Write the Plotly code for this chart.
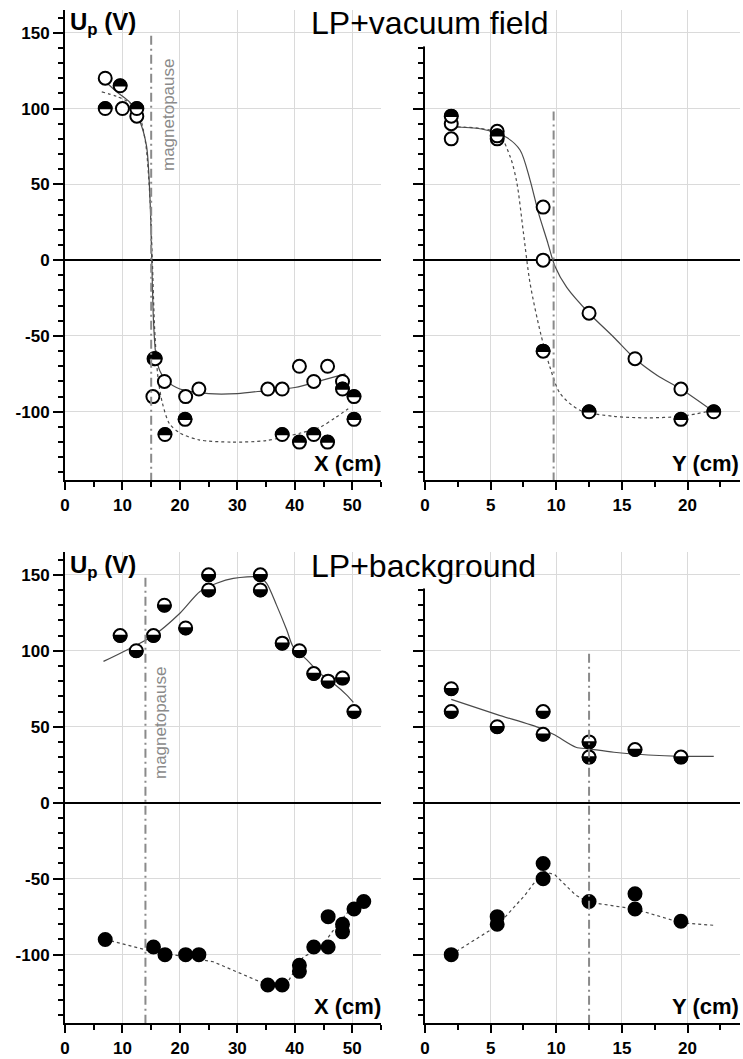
import numpy as np
import plotly.graph_objects as go

# ---------------------------------------------------------------- data
# LP + vacuum field, scan along X
vx_open_x = [7, 10, 12.5, 15.3, 15.5, 17.3, 21, 23.3, 35.3, 37.8, 40.8, 43.3, 45.7, 48.3]
vx_open_y = [120, 100, 95, -90, -65, -80, -90, -85, -85, -85, -70, -80, -70, -80]
vx_half_x = [7, 9.6, 12.5, 15.7, 17.4, 20.9, 37.8, 40.8, 43.3, 45.7, 48.3, 50.3, 50.3]
vx_half_y = [100, 115, 100, -65, -115, -105, -115, -120, -115, -120, -85, -90, -105]
vx_fit_open_x = [6.7, 9, 11.3, 13, 14.2, 14.8, 15.1, 15.4, 15.8, 16.5, 17.5, 20, 25, 30, 35, 40, 45, 48.8]
vx_fit_open_y = [119, 111, 104, 92, 75, 40, 0, -40, -62, -73, -79, -85, -88, -88, -86, -84, -79, -75]
vx_fit_half_x = [6.4, 9, 11.2, 12.8, 14, 14.8, 15.2, 15.6, 16.2, 17, 18.2, 20, 23.3, 29, 35, 41, 44.5, 47, 49.3]
vx_fit_half_y = [111, 108, 104, 97, 78, 40, 0, -45, -78, -95, -108, -114, -118.5, -120, -119, -114, -110, -104, -98]

# LP + vacuum field, scan along Y
vy_open_x = [2, 2, 5.5, 5.5, 9, 9, 12.5, 16, 19.5]
vy_open_y = [90, 80, 85, 80, 35, 0, -35, -65, -85]
vy_half_x = [2, 5.5, 9, 12.5, 19.5, 22]
vy_half_y = [95, 82, -60, -100, -105, -100]
vy_fit_open_x = [2, 4.3, 6.2, 7.25, 8.0, 8.65, 9.3, 9.9, 10.8, 12.5, 14.4, 16, 17.7, 19.5, 22]
vy_fit_open_y = [88, 86.5, 81, 72.5, 53, 31, 13, -4, -18, -35, -51, -65, -76, -85, -100]
vy_fit_half_x = [2, 5.5, 6.5, 7.0, 7.5, 8.0, 8.8, 9.5, 10.3, 11.8, 14.4, 16.9, 19.5, 22]
vy_fit_half_y = [88, 84, 68, 51, 18, -15, -48, -70, -88, -99, -103, -104, -103, -99]

# LP + background, scan along X
bx_half_x = [9.6, 12.4, 15.4, 17.3, 21, 25, 25, 34, 34, 37.8, 40.8, 43.3, 45.8, 48.3, 50.3]
bx_half_y = [110, 100, 110, 130, 115, 150, 140, 150, 140, 105, 100, 85, 80, 82, 60]
bx_fit_x = [6.7, 11.9, 15.4, 20, 23.5, 26.4, 29.3, 33.9, 35.1, 36.8, 38.6, 39.7, 42.1, 44.4, 46.7, 49, 50.2]
bx_fit_y = [93, 102.7, 110, 124.7, 139, 144.4, 147.6, 148.3, 144.4, 130.2, 113.7, 102.7, 94, 85, 78.6, 71, 66]
bx_full_x = [7, 15.4, 17.4, 21, 23.3, 35.3, 37.8, 40.8, 40.8, 43.3, 45.8, 45.8, 48.3, 48.3, 50.3, 52]
bx_full_y = [-90, -95, -100, -100, -100, -120, -120, -107, -111, -95, -75, -95, -80, -85, -70, -65]
bx_dash_x = [7, 14.2, 25.8, 33.9, 38.6, 39.7, 41.5, 44.4, 46.7, 49, 52]
bx_dash_y = [-90, -97, -104.7, -117.8, -119, -112.3, -101.4, -96, -84, -73, -65]

# LP + background, scan along Y
by_half_x = [2, 2, 5.5, 9, 9, 12.5, 12.5, 16, 19.5]
by_half_y = [75, 60, 50, 60, 45, 40, 30, 35, 30]
by_fit_x = [2, 5.5, 8.8, 9.9, 11.5, 12.5, 14.4, 17, 19.5, 22]
by_fit_y = [68, 58, 49, 44.5, 36.5, 35.4, 33.2, 31.4, 30.5, 30.5]
by_full_x = [2, 5.5, 5.5, 9, 9, 12.5, 16, 16, 19.5]
by_full_y = [-100, -75, -80, -40, -50, -65, -60, -70, -78]
by_dash_x = [2, 5.5, 7.6, 9, 9.9, 11.5, 12.5, 14.4, 16, 19.5, 22]
by_dash_y = [-100, -81, -61, -45, -47.5, -61, -65.5, -67.7, -70, -79, -80.7]

# magnetopause positions (x, top of the line) per panel
mp_vx = (15.0, 148)
mp_vy = (9.8, 98)
mp_bx = (14.0, 148)
mp_by = (12.5, 98)

y_tickvals = [-100, -50, 0, 50, 100, 150]
y_ticktext = ["-100", "-50", "0", "50", "100", "150"]
x_tickvals = [0, 10, 20, 30, 40, 50]
y2_tickvals = [0, 5, 10, 15, 20]

# ---------------------------------------------------------------- geometry
W, H = 743, 1059
ML, MR, MT, MB = 65, 3, 10, 36
PW, PH = W - ML - MR, H - MT - MB
TOP_PX = (10, 480)      # top row: pixel rows of plot area
BOT_PX = (552, 1023)    # bottom row
YR = [-145, 165]
Y_SPINE_TOP = 140       # right-hand spines end here


def fx(p):
    return (p - ML) / PW


def fy(p):
    return (H - MB - p) / PH


def row_px(row, v):
    top, bot = row
    return bot - (v - YR[0]) / (YR[1] - YR[0]) * (bot - top)


LEFT = [fx(65), fx(381)]
RIGHT = [fx(425), fx(740)]
TOP = [fy(TOP_PX[1]), fy(TOP_PX[0])]
BOT = [fy(BOT_PX[1]), fy(BOT_PX[0])]

INK = "black"
CURVE = "#4a4a4a"
GRID = "#dadada"
MP = "#8a8a8a"
FONT = "Liberation Sans, Arial, sans-serif"
MS = 13

fig = go.Figure()


def curve(x, y, ax, dash=None, shape="spline"):
    fig.add_trace(go.Scatter(
        x=x, y=y, mode="lines", xaxis=ax[0], yaxis=ax[1],
        line=dict(color=CURVE, width=1.2, dash=dash, shape=shape, smoothing=0.8),
        hoverinfo="skip", showlegend=False))


def magnetopause(pos, ax):
    # drawn on top of the markers
    fig.add_shape(type="line", xref=ax[0], yref=ax[1],
                  x0=pos[0], x1=pos[0], y0=pos[1], y1=YR[0],
                  line=dict(color=MP, width=2, dash="9px,4px,2px,4px"), layer="above")


def open_pts(x, y, ax):
    fig.add_trace(go.Scatter(
        x=x, y=y, mode="markers", xaxis=ax[0], yaxis=ax[1],
        marker=dict(symbol="circle", size=MS, color="white", line=dict(color=INK, width=2)),
        showlegend=False))


def full_pts(x, y, ax):
    fig.add_trace(go.Scatter(
        x=x, y=y, mode="markers", xaxis=ax[0], yaxis=ax[1],
        marker=dict(symbol="circle", size=MS, color=INK, line=dict(color=INK, width=2)),
        showlegend=False))


def half_path(upper):
    r = MS / 2
    t = np.linspace(0, np.pi, 25)
    s = 1 if upper else -1
    pts = [(r * np.cos(a), s * r * np.sin(a)) for a in t]
    return "M " + " L ".join(f"{px:.2f},{py:.2f}" for px, py in pts) + " Z"


def half_pts(x, y, ax, upper):
    """White circles with one half blacked out (pixel-sized path anchored at each point)."""
    open_pts(x, y, ax)
    path = half_path(upper)
    for xi, yi in zip(x, y):
        fig.add_shape(type="path", path=path, xref=ax[0], yref=ax[1],
                      xsizemode="pixel", ysizemode="pixel", xanchor=xi, yanchor=yi,
                      fillcolor=INK, line=dict(color=INK, width=1.5), layer="above")


# top left: vacuum field, X
A1 = ("x", "y")
curve(vx_fit_open_x, vx_fit_open_y, A1)
curve(vx_fit_half_x, vx_fit_half_y, A1, dash="3px,3px")
open_pts(vx_open_x, vx_open_y, A1)
half_pts(vx_half_x, vx_half_y, A1, upper=True)

# top right: vacuum field, Y
A2 = ("x2", "y2")
curve(vy_fit_open_x, vy_fit_open_y, A2)
curve(vy_fit_half_x, vy_fit_half_y, A2, dash="3px,3px")
open_pts(vy_open_x, vy_open_y, A2)
half_pts(vy_half_x, vy_half_y, A2, upper=True)

# bottom left: background, X
A3 = ("x3", "y3")
curve(bx_fit_x, bx_fit_y, A3)
curve(bx_dash_x, bx_dash_y, A3, dash="3px,3px", shape="linear")
half_pts(bx_half_x, bx_half_y, A3, upper=False)
full_pts(bx_full_x, bx_full_y, A3)

# bottom right: background, Y
A4 = ("x4", "y4")
curve(by_fit_x, by_fit_y, A4)
curve(by_dash_x, by_dash_y, A4, dash="3px,3px", shape="linear")
half_pts(by_half_x, by_half_y, A4, upper=False)
full_pts(by_full_x, by_full_y, A4)

magnetopause(mp_vx, A1)
magnetopause(mp_vy, A2)
magnetopause(mp_bx, A3)
magnetopause(mp_by, A4)

# the right-hand y spines stop at +140: blank out the spine and ticks above it
for row in (TOP_PX, BOT_PX):
    fig.add_shape(type="rect", xref="paper", yref="paper",
                  x0=fx(405), x1=fx(426.2),
                  y0=fy(row_px(row, Y_SPINE_TOP) - 1.5), y1=fy(row[0] - 4),
                  fillcolor="white", line=dict(width=0), layer="above")

tickfont = dict(family=FONT, size=17, color=INK, weight="bold")
minor_y = dict(ticks="outside", ticklen=5, tickwidth=1.5, tickcolor=INK,
               dtick=10, tick0=0, showgrid=False)


def xaxis(dom, anchor, rng, minor, vals):
    return dict(domain=dom, anchor=anchor, range=rng, showline=True, linecolor=INK, linewidth=2,
                ticks="outside", ticklen=8, tickwidth=2, tickcolor=INK, ticklabelstandoff=1,
                tickvals=vals, ticktext=[str(v) for v in vals], tickfont=tickfont,
                showgrid=True, gridcolor=GRID, gridwidth=1, zeroline=False, automargin=False,
                minor=dict(ticks="outside", ticklen=5, tickwidth=1.5, tickcolor=INK,
                           dtick=minor, tick0=0, showgrid=False),
                fixedrange=True)


def yaxis(dom, anchor, labelled):
    return dict(domain=dom, anchor=anchor, range=YR, showgrid=True, gridcolor=GRID, gridwidth=1,
                zeroline=True, zerolinecolor=INK, zerolinewidth=1.8, fixedrange=True,
                showline=True, linecolor=INK, linewidth=2, ticks="outside", ticklen=10,
                tickwidth=2, tickcolor=INK, tickvals=y_tickvals, ticktext=y_ticktext,
                tickfont=tickfont, showticklabels=labelled, minor=minor_y, automargin=False)


def ann(text, px, py, size, xanchor="left", yanchor="middle", bold=False, color=INK, angle=0):
    fig.add_annotation(text=text, x=fx(px), y=fy(py), xref="paper", yref="paper",
                       xanchor=xanchor, yanchor=yanchor, showarrow=False, textangle=angle,
                       font=dict(family=FONT, size=size, color=color,
                                 weight="bold" if bold else "normal"))


# panel titles and axis names
ann("LP+vacuum field", 309, 23, 32)
ann("LP+background", 309, 566, 32)
for top in (10, 552):
    ann("U<sub>p</sub> (V)", 68, top + 14, 24, bold=True)
for axis_y in (480, 1023):
    ann("X (cm)", 383, axis_y - 17, 22, xanchor="right", bold=True)
    ann("Y (cm)", 741, axis_y - 17, 22, xanchor="right", bold=True)
ann("magnetopause", 168, 115, 17, xanchor="center", color=MP, angle=-90)
ann("magnetopause", 160, 723, 17, xanchor="center", color=MP, angle=-90)

fig.update_layout(
    width=W, height=H,
    margin=dict(l=ML, r=MR, t=MT, b=MB, autoexpand=False),
    paper_bgcolor="white", plot_bgcolor="white",
    showlegend=False,
    xaxis=xaxis(LEFT, "y", [0, 55], 5, x_tickvals),
    yaxis=yaxis(TOP, "x", True),
    xaxis2=xaxis(RIGHT, "y2", [0, 24], 2.5, y2_tickvals),
    yaxis2=yaxis(TOP, "x2", False),
    xaxis3=xaxis(LEFT, "y3", [0, 55], 5, x_tickvals),
    yaxis3=yaxis(BOT, "x3", True),
    xaxis4=xaxis(RIGHT, "y4", [0, 24], 2.5, y2_tickvals),
    yaxis4=yaxis(BOT, "x4", False),
)

fig.write_html("out.html")
